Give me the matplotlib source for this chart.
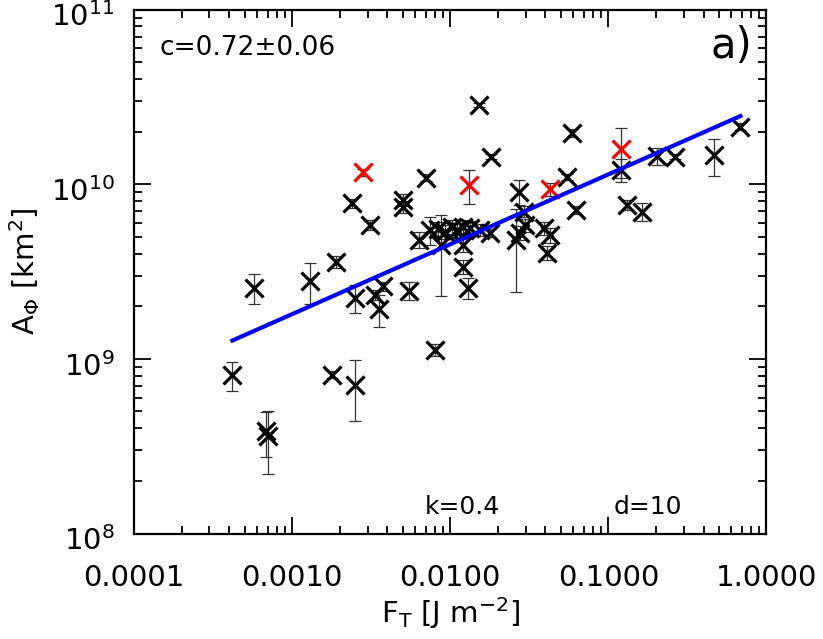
import numpy as np
import matplotlib
matplotlib.use('Agg')
import matplotlib.pyplot as plt
import matplotlib.transforms as mtransforms
from matplotlib.ticker import FixedLocator, FuncFormatter, LogLocator, NullFormatter

# F_T [J m^-2], A_phi [km^2], sigma(A_phi) [km^2]
ft = [4.19e-4, 5.74e-4, 6.88e-4, 7.05e-4, 1.29e-3, 1.89e-3, 1.79e-3, 2.40e-3,
      2.50e-3, 2.50e-3, 3.11e-3, 3.34e-3, 3.78e-3, 3.56e-3, 5.06e-3, 5.06e-3,
      5.52e-3, 7.05e-3, 8.03e-3, 6.38e-3, 7.47e-3, 8.39e-3, 9.29e-3, 1.03e-2,
      1.11e-2, 1.21e-2, 1.34e-2, 1.55e-2, 1.79e-2, 8.77e-3, 1.21e-2, 1.21e-2,
      1.30e-2, 1.51e-2, 1.81e-2, 2.71e-2, 2.92e-2, 2.99e-2, 2.78e-2, 2.62e-2,
      3.91e-2, 4.30e-2, 4.07e-2, 5.50e-2, 6.21e-2, 5.92e-2, 1.21e-1, 1.32e-1,
      1.63e-1, 2.02e-1, 2.63e-1, 4.68e-1, 6.84e-1]
aphi = [8.03e8, 2.56e9, 3.85e8, 3.60e8, 2.80e9, 3.60e9, 8.13e8, 7.79e9,
        2.23e9, 7.13e8, 5.85e9, 2.33e9, 2.60e9, 1.93e9, 8.13e9, 7.45e9,
        2.46e9, 1.09e10, 1.13e9, 4.81e9, 5.48e9, 5.55e9, 5.34e9, 5.70e9,
        5.48e9, 5.70e9, 5.62e9, 5.48e9, 5.27e9, 4.50e9, 4.50e9, 3.37e9,
        2.55e9, 2.84e10, 1.44e10, 9.07e9, 6.97e9, 5.85e9, 5.27e9, 4.81e9,
        5.60e9, 5.13e9, 4.05e9, 1.10e10, 7.13e9, 1.97e10, 1.21e10, 7.62e9,
        6.97e9, 1.45e10, 1.44e10, 1.47e10, 2.13e10]
sig = [1.5e8, 5.0e8, 1.1e8, 1.4e8, 7.5e8, 3.0e8, 4.0e7, 4.5e8,
       4.0e8, 2.7e8, 4.0e8, 1.5e8, 1.5e8, 4.0e8, 6.0e8, 6.0e8,
       3.0e8, 5.0e8, 9.0e7, 5.0e8, 1.0e9, 5.0e8, 5.0e8, 5.0e8,
       5.0e8, 5.0e8, 5.0e8, 4.0e8, 3.0e8, 2.2e9, 4.0e8, 3.0e8,
       3.5e8, 8.0e8, 5.0e8, 1.5e9, 5.0e8, 5.0e8, 5.0e8, 2.4e9,
       5.0e8, 5.0e8, 3.5e8, 5.0e8, 4.0e8, 1.0e9, 1.8e9, 5.0e8,
       8.0e8, 1.7e9, 5.0e8, 3.5e9, 1.0e9]

# red (flagged) events
ft_red = [2.79e-3, 1.31e-2, 4.30e-2, 1.21e-1]
aphi_red = [1.17e10, 9.90e9, 9.36e9, 1.59e10]
sig_red = [5.0e8, 2.2e9, 8.0e8, 5.0e9]

# power-law fit
k_fit = 0.4
loga_fit = 10.456

ft = np.array(ft); aphi = np.array(aphi)

plt.rcParams['font.family'] = 'DejaVu Sans'
plt.rcParams['mathtext.fontset'] = 'dejavusans'

fig = plt.figure(figsize=(8.23, 6.39), dpi=100)
ax = fig.add_axes([0.1628, 0.1651, 0.7685, 0.8200])

ax.errorbar(ft, aphi, yerr=sig, fmt='none', ecolor='0.2', elinewidth=0.9,
            capsize=4, capthick=0.9, zorder=2)
ax.errorbar(ft_red, aphi_red, yerr=sig_red, fmt='none', ecolor='0.2',
            elinewidth=0.9, capsize=4, capthick=0.9, zorder=2)
ax.plot(ft, aphi, 'x', color='black', ms=13.5, mew=2.3, zorder=3)
ax.plot(ft_red, aphi_red, 'x', color='red', ms=13.5, mew=2.3, zorder=3)

xf = np.array([ft.min(), ft.max()])
ax.plot(xf, 10**(loga_fit + k_fit*np.log10(xf)), '-', color='blue', lw=3, zorder=4)

ax.set_xscale('log'); ax.set_yscale('log')
ax.set_xlim(1e-4, 1.0); ax.set_ylim(1e8, 1e11)

ax.xaxis.set_major_locator(FixedLocator([1e-4, 1e-3, 1e-2, 1e-1, 1.0]))
ax.xaxis.set_major_formatter(FuncFormatter(lambda v, p: '%.4f' % v))
ax.xaxis.set_minor_locator(LogLocator(base=10, subs=np.arange(2, 10)))
ax.xaxis.set_minor_formatter(NullFormatter())
ax.yaxis.set_major_locator(FixedLocator([1e8, 1e9, 1e10, 1e11]))
ax.yaxis.set_major_formatter(FuncFormatter(lambda v, p: r'$10^{%d}$' % round(np.log10(v))))
ax.yaxis.set_minor_locator(LogLocator(base=10, subs=np.arange(2, 10)))
ax.yaxis.set_minor_formatter(NullFormatter())

ax.tick_params(which='both', direction='in', top=True, right=True, width=1.3)
ax.tick_params(which='major', length=12, labelsize=21)
ax.tick_params(axis='x', which='major', pad=22)
ax.tick_params(axis='y', which='major', pad=14)
ax.tick_params(which='minor', length=6)
for s in ax.spines.values():
    s.set_linewidth(1.6)

# nudge the y labels down a little, as in the original
shift = mtransforms.ScaledTranslation(0, -5/100, fig.dpi_scale_trans)
for lab in ax.get_yticklabels():
    lab.set_transform(lab.get_transform() + shift)

ax.set_xlabel(r'F$_\mathregular{T}$ [J m$^{-2}$]', fontsize=21, labelpad=2)
ax.set_ylabel(r'A$_\mathregular{\Phi}$ [km$^2$]', fontsize=21, labelpad=6)

ax.text(0.041, 0.927, 'c=0.72±0.06', transform=ax.transAxes, fontsize=19, va='center')
ax.text(0.945, 0.93, 'a)', transform=ax.transAxes, fontsize=30, va='center', ha='center')
ax.text(0.52, 0.05, 'k=0.4', transform=ax.transAxes, fontsize=18, va='center', ha='center')
ax.text(0.813, 0.05, 'd=10', transform=ax.transAxes, fontsize=18, va='center', ha='center')

fig.savefig('out.png', dpi=100)
